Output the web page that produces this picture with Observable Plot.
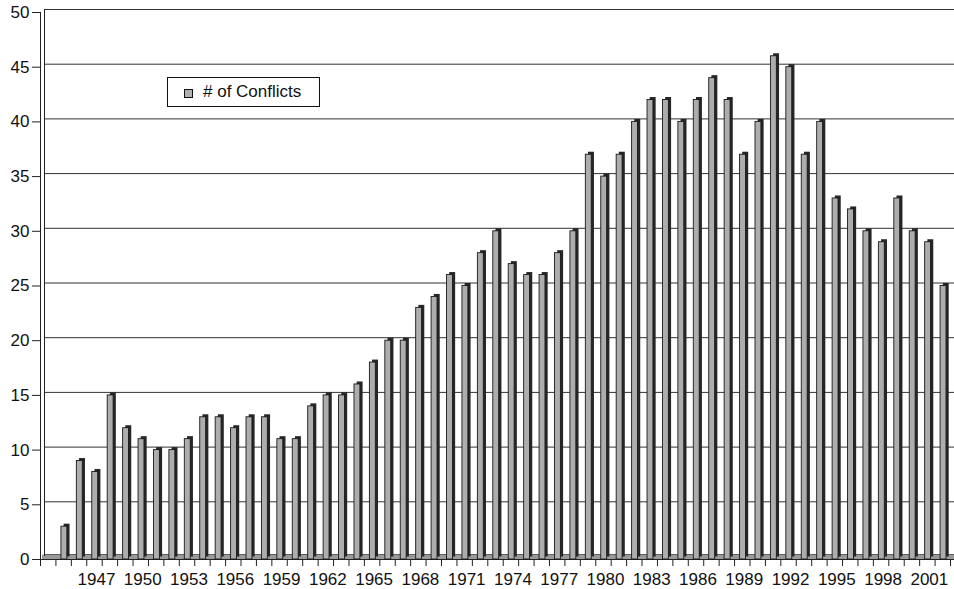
<!DOCTYPE html>
<html>
<head>
<meta charset="utf-8">
<script src="https://cdn.jsdelivr.net/npm/d3@7"></script>
<script src="https://cdn.jsdelivr.net/npm/@observablehq/plot@0.6"></script>
<style>
  html, body { margin: 0; padding: 0; background: #fff; }
  #wrap { position: relative; width: 954px; height: 589px; font-family: "Liberation Sans", Arial, sans-serif; }
  #chart svg text { font-size: 17px; fill: #111; }
  #legend { position: absolute; left: 167px; top: 77px; width: 151px; height: 28px; border: 1.5px solid #111; background: #fff;
            font-size: 17px; color: #111; }
  #legend .sw { position: absolute; left: 16px; top: 11px; width: 7px; height: 7px; background: #b0b0b2; border: 1px solid #111; }
  #legend .lb { position: absolute; left: 35px; top: 4px; white-space: nowrap; }
</style>
</head>
<body>
<div id="wrap">
  <div id="chart"></div>
  <div id="legend"><div class="sw"></div><div class="lb"># of Conflicts</div></div>
</div>
<script>
// Data
const years = [1945,1946,1947,1948,1949,1950,1951,1952,1953,1954,1955,1956,1957,1958,1959,1960,
  1961,1962,1963,1964,1965,1966,1967,1968,1969,1970,1971,1972,1973,1974,1975,1976,1977,1978,1979,1980,
  1981,1982,1983,1984,1985,1986,1987,1988,1989,1990,1991,1992,1993,1994,1995,1996,1997,1998,1999,2000,2001,2002];
const conflicts = [3,9,8,15,12,11,10,10,11,13,13,12,13,13,11,11,
  14,15,15,16,18,20,20,23,24,26,25,28,30,27,26,26,28,30,37,35,
  37,40,42,42,40,42,44,42,37,40,46,45,37,40,33,32,30,29,33,30,29,25];
const yTicks = [0,5,10,15,20,25,30,35,40,45,50];
const labelYears = [1947,1950,1953,1956,1959,1962,1965,1968,1971,1974,1977,1980,1983,1986,1989,1992,1995,1998,2001];
const seriesName = "# of Conflicts";

const firstCat = 1944, lastCat = 2003; // category boundaries of the x axis
const data = years.map((year, i) => ({year, value: conflicts[i]}));
const boundaries = d3.range(firstCat, lastCat + 1);
const gridTicks = yTicks.filter(d => d > 0);

const chart = Plot.plot({
  width: 954,
  height: 589,
  marginLeft: 40,
  marginRight: 0,
  marginTop: 12,
  marginBottom: 30,
  style: {fontFamily: "'Liberation Sans', Arial, sans-serif", fontSize: "17px", color: "#111", background: "white"},
  x: {type: "linear", domain: [firstCat, lastCat], range: [40, 950]},
  y: {domain: [0, 50], range: [559, 12]},
  marks: [
    // back-wall gridlines (offset for 3D depth)
    Plot.ruleY(gridTicks, {dx: 4, dy: -3, stroke: "#333", strokeWidth: 1}),
    // floor
    Plot.ruleY([0], {dx: 2, dy: -2.5, stroke: "#9a9a9a", strokeWidth: 5}),
    Plot.ruleY([0], {dx: 4, dy: -5, stroke: "#444", strokeWidth: 0.8}),
    Plot.ruleY([0], {stroke: "#222", strokeWidth: 1}),
    // left walls
    Plot.ruleX([firstCat], {y1: 0, y2: 50, stroke: "#222", strokeWidth: 1}),
    Plot.ruleX([firstCat], {y1: 0, y2: 50, dx: 4, dy: -3, stroke: "#222", strokeWidth: 1}),
    // bar depth (dark side and top)
    Plot.rectY(data, {x1: "year", x2: d => d.year + 1, y: "value", insetLeft: 5.5, insetRight: 4,
      dx: 2.7, dy: -2.5, fill: "#262626"}),
    // bar front
    Plot.rectY(data, {x1: "year", x2: d => d.year + 1, y: "value", insetLeft: 5.5, insetRight: 4,
      fill: "#adadaf", stroke: "#1a1a1a", strokeWidth: 0.9, title: d => `${d.year}: ${d.value} (${seriesName})`}),
    // y axis
    Plot.axisY({ticks: yTicks, tickSize: 8, tickPadding: 3, stroke: "#222", label: null, fontSize: 17}),
    // x axis: boundary ticks
    Plot.axisX({ticks: boundaries, tickSize: 7, tickFormat: () => "", stroke: "#222", label: null}),
    // x axis: year labels centred on categories
    Plot.axisX({ticks: labelYears.map(y => y + 0.5), tickFormat: d => String(Math.floor(d)),
      tickSize: 0, tickPadding: 13, dx: 2, label: null, fontSize: 17})
  ]
});
document.getElementById("chart").appendChild(chart);
</script>
</body>
</html>
